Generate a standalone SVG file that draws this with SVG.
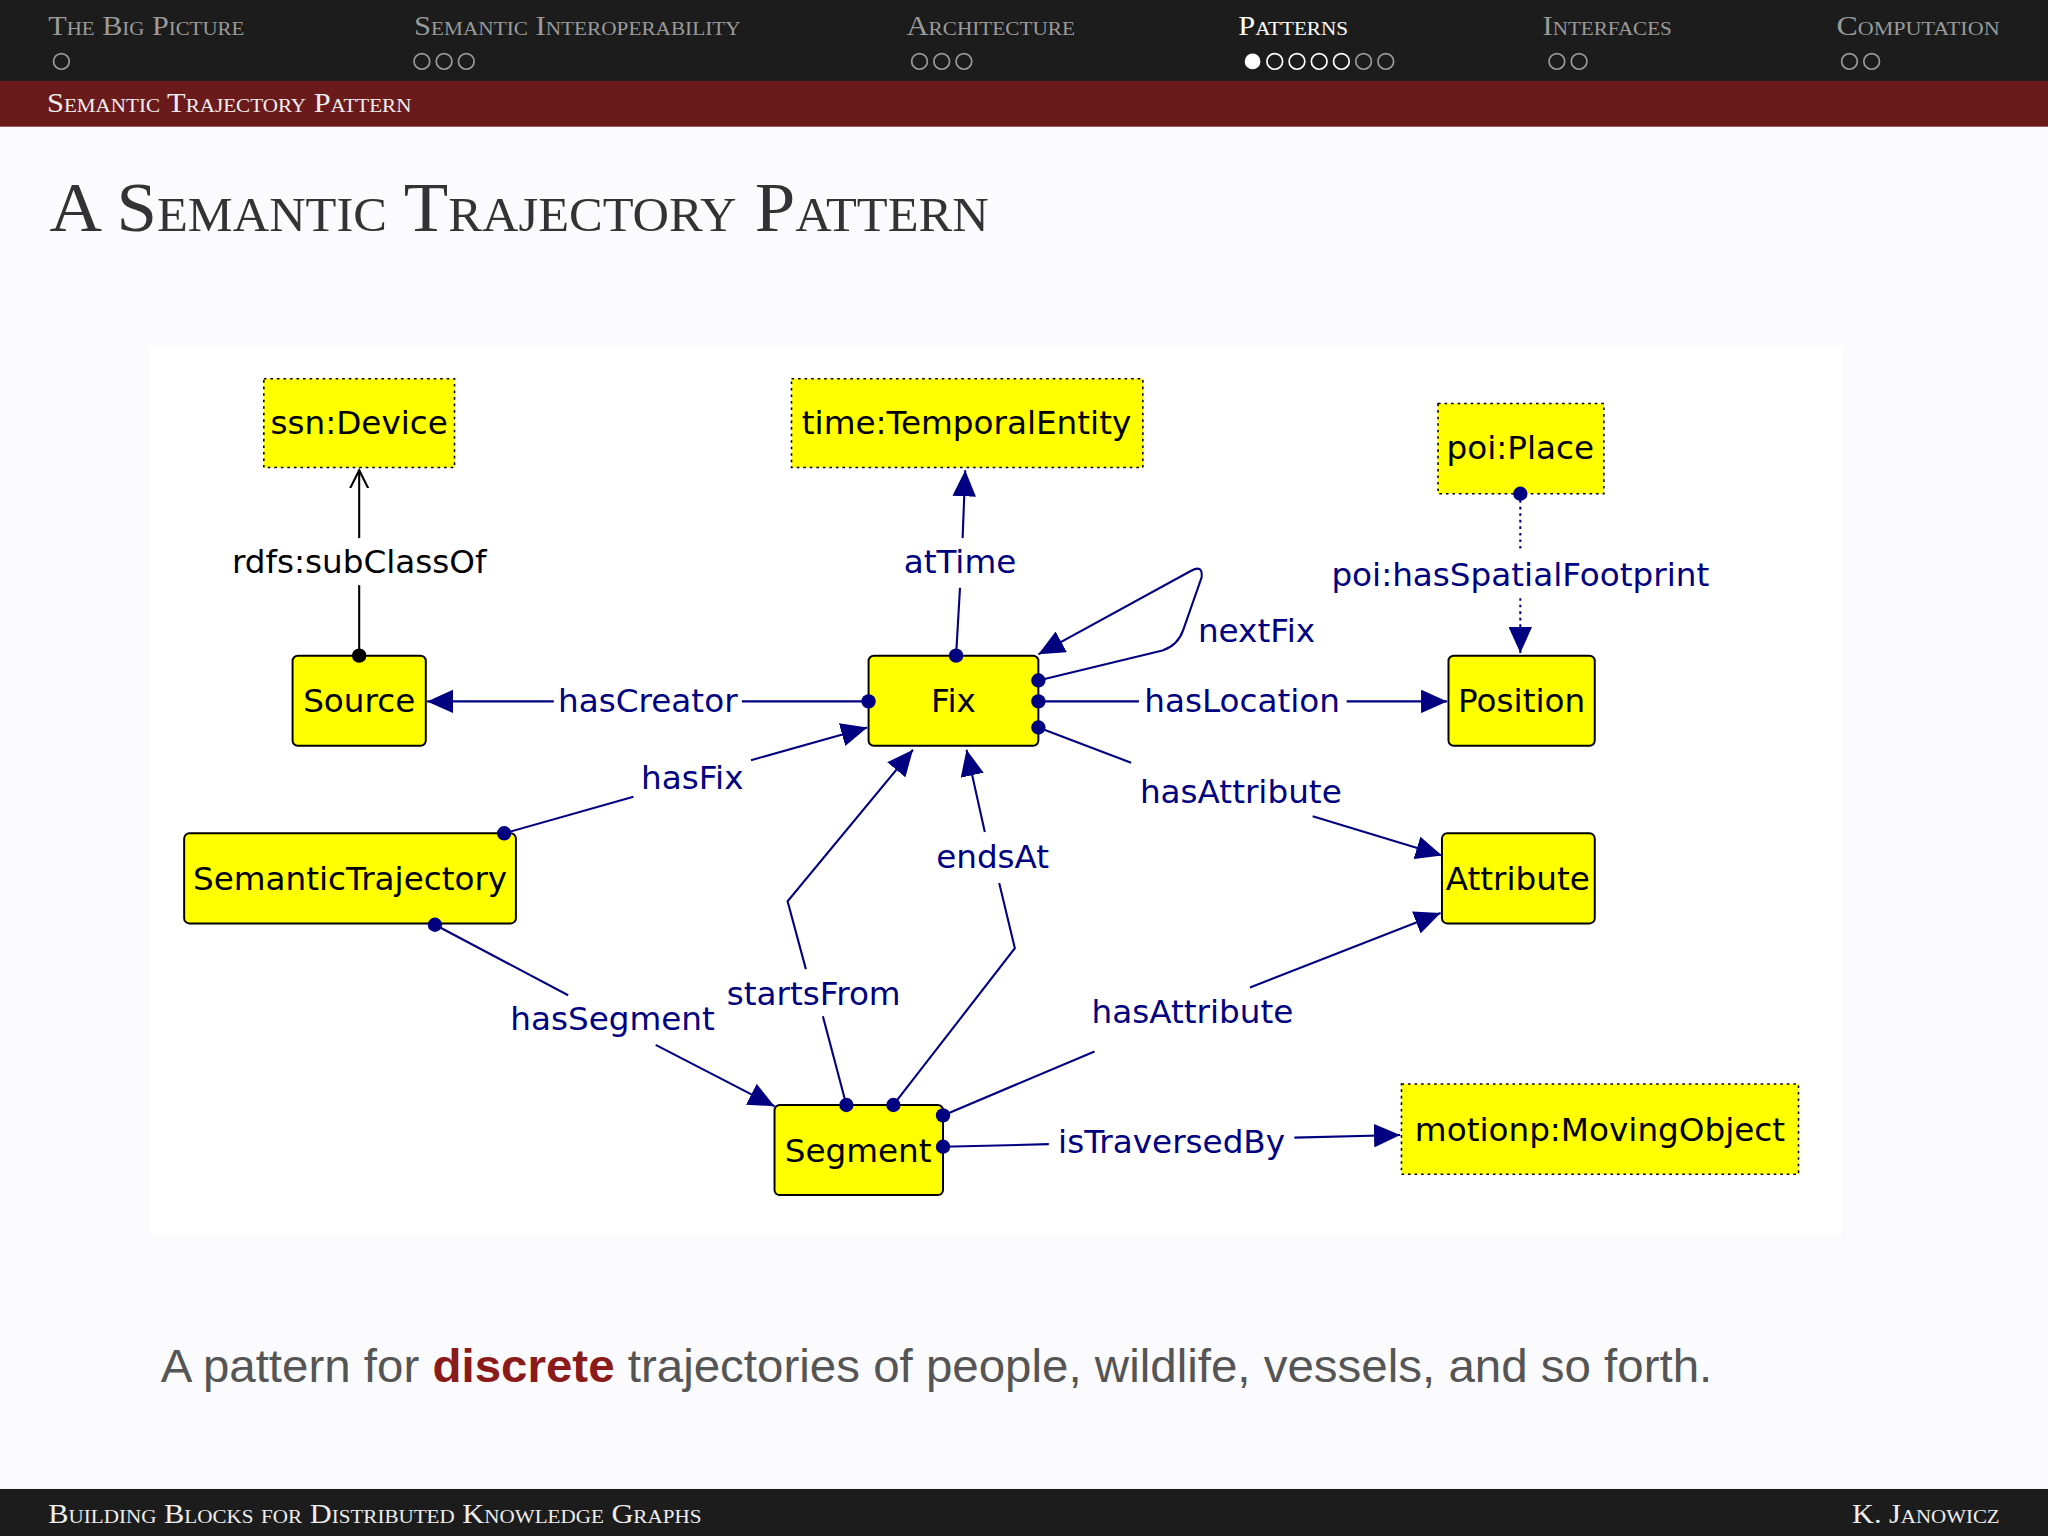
<svg xmlns="http://www.w3.org/2000/svg" width="2048" height="1536" viewBox="0 0 2048 1536">
<style>
.hd{font-family:"Liberation Serif",serif;font-variant:small-caps;font-size:21px;fill:#9a9a9a}
.nd{fill:#ffff00;stroke:#000;stroke-width:1.5}
.dt{fill:#ffff00;stroke:#000;stroke-width:1.2;stroke-dasharray:2 3}
.nt{font-family:"DejaVu Sans",sans-serif;font-size:25px;fill:#000;text-anchor:middle;dominant-baseline:central}
.el{font-family:"DejaVu Sans",sans-serif;font-size:25px;fill:#000080;text-anchor:middle;dominant-baseline:central}
.e{fill:none;stroke:#000080;stroke-width:1.6}
.d{fill:#000080}
</style>
<defs>
<marker id="a" markerUnits="userSpaceOnUse" markerWidth="22" markerHeight="18" refX="20" refY="9" orient="auto"><path d="M0,0L20,9L0,18z" fill="#000080"/></marker>
<marker id="b" markerUnits="userSpaceOnUse" markerWidth="16" markerHeight="16" refX="14" refY="8" orient="auto"><path d="M0,1L14,8L0,15" fill="none" stroke="#000" stroke-width="1.6"/></marker>
</defs>
<rect width="2048" height="1536" fill="#fbfbfd"/>
<g transform="scale(1.30612)">
<rect width="1568" height="62" fill="#1c1c1c"/>
<rect y="62" width="1568" height="35" fill="#6b1a1c"/>
<rect y="1140" width="1568" height="36" fill="#1c1c1c"/>
<g class="hd">
<text x="37" y="27" textLength="150" lengthAdjust="spacingAndGlyphs">The Big Picture</text>
<text x="317" y="27" textLength="250" lengthAdjust="spacingAndGlyphs">Semantic Interoperability</text>
<text x="694" y="27" textLength="129" lengthAdjust="spacingAndGlyphs">Architecture</text>
<text x="948" y="27" fill="#fff" textLength="84" lengthAdjust="spacingAndGlyphs">Patterns</text>
<text x="1181" y="27" textLength="99" lengthAdjust="spacingAndGlyphs">Interfaces</text>
<text x="1406" y="27" textLength="125" lengthAdjust="spacingAndGlyphs">Computation</text>
<text x="36" y="86" fill="#eee" textLength="279" lengthAdjust="spacingAndGlyphs">Semantic Trajectory Pattern</text>
<text x="37" y="1166" fill="#eee" textLength="500" lengthAdjust="spacingAndGlyphs">Building Blocks for Distributed Knowledge Graphs</text>
<text x="1418" y="1166" fill="#eee" textLength="113" lengthAdjust="spacingAndGlyphs">K. Janowicz</text>
</g>
<g fill="none" stroke="#9a9a9a" stroke-width="1.3">
<circle cx="47" cy="47" r="6"/>
<circle cx="323" cy="47" r="6"/><circle cx="340" cy="47" r="6"/><circle cx="357" cy="47" r="6"/>
<circle cx="704" cy="47" r="6"/><circle cx="721" cy="47" r="6"/><circle cx="738" cy="47" r="6"/>
<circle cx="976" cy="47" r="6" stroke="#fff"/><circle cx="993" cy="47" r="6" stroke="#fff"/><circle cx="1010" cy="47" r="6" stroke="#fff"/><circle cx="1027" cy="47" r="6" stroke="#fff"/><circle cx="1044" cy="47" r="6"/><circle cx="1061" cy="47" r="6"/>
<circle cx="1192" cy="47" r="6"/><circle cx="1209" cy="47" r="6"/>
<circle cx="1416" cy="47" r="6"/><circle cx="1433" cy="47" r="6"/>
</g>
<circle cx="959" cy="47" r="6" fill="#fff"/>
<text x="38" y="177" font-family="Liberation Serif,serif" font-variant="small-caps" font-size="53" fill="#333" textLength="719" lengthAdjust="spacingAndGlyphs">A Semantic Trajectory Pattern</text>
<rect x="115" y="265" width="1295" height="680" fill="#fff"/>

<g id="ssnDevice"><rect class="dt" x="202" y="290" width="146" height="68"/><text class="nt" x="275" y="324">ssn:Device</text></g>
<g id="timeTemporalEntity"><rect class="dt" x="606" y="290" width="269" height="68"/><text class="nt" x="740" y="324">time:TemporalEntity</text></g>
<g id="poiPlace"><rect class="dt" x="1101" y="309" width="127" height="69"/><text class="nt" x="1164" y="343">poi:Place</text></g>
<g id="Source"><rect class="nd" x="224" y="502" width="102" height="69" rx="4"/><text class="nt" x="275" y="537">Source</text></g>
<g id="Fix"><rect class="nd" x="665" y="502" width="130" height="69" rx="4"/><text class="nt" x="730" y="537">Fix</text></g>
<g id="Position"><rect class="nd" x="1109" y="502" width="112" height="69" rx="4"/><text class="nt" x="1165" y="537">Position</text></g>
<g id="SemanticTrajectory"><rect class="nd" x="141" y="638" width="254" height="69" rx="4"/><text class="nt" x="268" y="673">SemanticTrajectory</text></g>
<g id="Attribute"><rect class="nd" x="1104" y="638" width="117" height="69" rx="4"/><text class="nt" x="1162" y="673">Attribute</text></g>
<g id="Segment"><rect class="nd" x="593" y="846" width="129" height="69" rx="4"/><text class="nt" x="657" y="881">Segment</text></g>
<g id="MovingObject"><rect class="dt" x="1073" y="830" width="304" height="69"/><text class="nt" x="1225" y="865">motionp:MovingObject</text></g>

<g id="connectors">
<line x1="275" y1="502" x2="275" y2="448" stroke="#000" stroke-width="1.6"/>
<line x1="275" y1="412" x2="275" y2="360" stroke="#000" stroke-width="1.6" marker-end="url(#b)"/>
<text class="nt" x="275" y="430">rdfs:subClassOf</text>
<circle cx="275" cy="502" r="5.5" fill="#000"/>

<line class="e" x1="732" y1="502" x2="735" y2="450"/>
<line class="e" x1="737" y1="412" x2="739" y2="360" marker-end="url(#a)"/>
<text class="el" x="735" y="430">atTime</text>
<circle class="d" cx="732" cy="502" r="5.5"/>

<path class="e" d="M795,521 L890,498 Q902,494 906,482 L920,442 Q921,432 912,437 L795,501" marker-end="url(#a)"/>
<text class="el" x="962" y="483">nextFix</text>
<circle class="d" cx="795" cy="521" r="5.5"/>

<line class="e" x1="665" y1="537" x2="568" y2="537"/>
<line class="e" x1="424" y1="537" x2="327" y2="537" marker-end="url(#a)"/>
<text class="el" x="496" y="537">hasCreator</text>
<circle class="d" cx="665" cy="537" r="5.5"/>

<line class="e" x1="795" y1="537" x2="872" y2="537"/>
<line class="e" x1="1031" y1="537" x2="1108" y2="537" marker-end="url(#a)"/>
<text class="el" x="951" y="537">hasLocation</text>
<circle class="d" cx="795" cy="537" r="5.5"/>

<line class="e" x1="795" y1="557" x2="866" y2="584"/>
<line class="e" x1="1005" y1="625" x2="1104" y2="655" marker-end="url(#a)"/>
<text class="el" x="950" y="606">hasAttribute</text>
<circle class="d" cx="795" cy="557" r="5.5"/>

<line class="e" x1="386" y1="638" x2="485" y2="610"/>
<line class="e" x1="575" y1="582" x2="664" y2="557" marker-end="url(#a)"/>
<text class="el" x="530" y="596">hasFix</text>
<circle class="d" cx="386" cy="638" r="5.5"/>

<line class="e" x1="333" y1="708" x2="435" y2="762"/>
<line class="e" x1="502" y1="800" x2="593" y2="847" marker-end="url(#a)"/>
<text class="el" x="469" y="780">hasSegment</text>
<circle class="d" cx="333" cy="708" r="5.5"/>

<line class="e" x1="648" y1="846" x2="630" y2="778"/>
<path class="e" d="M617,742 L603,690 L699,574" marker-end="url(#a)"/>
<text class="el" x="623" y="761">startsFrom</text>
<circle class="d" cx="648" cy="846" r="5.5"/>

<path class="e" d="M684,846 L777,726 L765,676"/>
<line class="e" x1="754" y1="637" x2="740" y2="574" marker-end="url(#a)"/>
<text class="el" x="760" y="656">endsAt</text>
<circle class="d" cx="684" cy="846" r="5.5"/>

<line class="e" x1="722" y1="854" x2="838" y2="805"/>
<line class="e" x1="957" y1="756" x2="1103" y2="699" marker-end="url(#a)"/>
<text class="el" x="913" y="775">hasAttribute</text>
<circle class="d" cx="722" cy="854" r="5.5"/>

<line class="e" x1="722" y1="878" x2="803" y2="876"/>
<line class="e" x1="991" y1="871" x2="1072" y2="869" marker-end="url(#a)"/>
<text class="el" x="897" y="874">isTraversedBy</text>
<circle class="d" cx="722" cy="878" r="5.5"/>

<line class="e" x1="1164" y1="378" x2="1164" y2="422" stroke-dasharray="2 3"/>
<line class="e" x1="1164" y1="458" x2="1164" y2="500" stroke-dasharray="2 3" marker-end="url(#a)"/>
<text class="el" x="1164" y="440">poi:hasSpatialFootprint</text>
<circle class="d" cx="1164" cy="378" r="5.5"/>
</g>

<text x="123" y="1058" font-family="Liberation Sans,sans-serif" font-size="36" fill="#555" textLength="1188" lengthAdjust="spacingAndGlyphs">A pattern for <tspan font-weight="bold" fill="#8b1a1a">discrete</tspan> trajectories of people, wildlife, vessels, and so forth.</text>
</g>
</svg>
